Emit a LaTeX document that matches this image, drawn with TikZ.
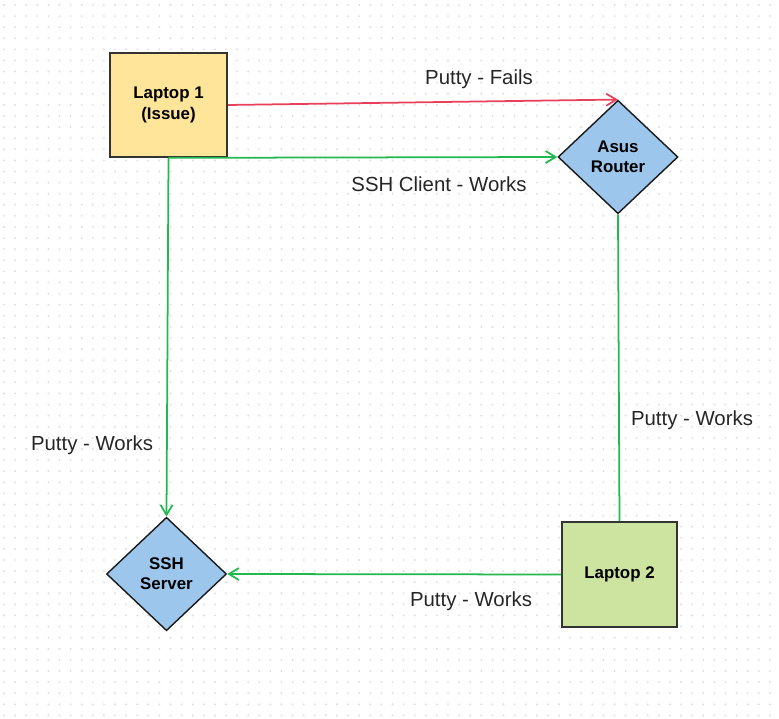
\documentclass[tikz,border=0pt]{standalone}
\usepackage{fontspec}
\setmainfont{Liberation Sans}
\usetikzlibrary{shapes.geometric,arrows.meta}
\definecolor{laptopyellow}{HTML}{FFE599}
\definecolor{laptopgreen}{HTML}{CDE3A0}
\definecolor{routerblue}{HTML}{9DC6EC}
\definecolor{linkred}{HTML}{E8405A}
\definecolor{linkgreen}{HTML}{22B850}
\definecolor{griddot}{HTML}{DDDDDD}
\begin{document}
\begin{tikzpicture}[x=0.02cm,y=-0.02cm,
    laptop/.style={draw=black!80,line width=1pt,font=\fontsize{9.6}{11.5}\selectfont\bfseries,align=center},
    device/.style={diamond,draw=black!90,line width=0.8pt,fill=routerblue,inner sep=0pt,
        minimum width=2.4cm,minimum height=2.27cm,font=\fontsize{9.6}{11.5}\selectfont\bfseries,align=center},
    link/.style={line width=1pt,-{Straight Barb[length=2mm,width=2.4mm]}},
    linklabel/.style={font=\fontsize{11.6}{13}\selectfont,text=black!85}]
    \useasboundingbox (0,0) rectangle (779,719);
    % dotted grid
    \foreach \i in {0,...,70}
        \foreach \j in {0,...,64}
            \fill[griddot] (4+11.1*\i,5+11.1*\j) circle (0.6pt);
    \node[laptop,fill=laptopyellow,minimum width=2.34cm,minimum height=2.08cm] (lap1) at (168.5,105) {Laptop 1\\(Issue)};
    \node[laptop,fill=laptopgreen,minimum width=2.3cm,minimum height=2.1cm] (lap2) at (619.5,574.5) {Laptop 2};
    \node[device] (router) at (618,157) {Asus\\Router};
    \node[device] (server) at (166.5,574) {SSH\\Server};
    \draw[link,linkred] (lap1.east) -- (router.north);
    \draw[link,linkgreen] (lap1.south) -- (router.west);
    \draw[link,linkgreen] (lap1.south) -- (server.north);
    \draw[line width=1pt,linkgreen] (lap2.north) -- (router.south);
    \draw[link,linkgreen] (lap2.west) -- (server.east);
    \node[linklabel] (fails) at (479,79) {Putty - Fails};
    \node[linklabel] (client) at (439,184) {SSH Client - Works};
    \node[linklabel] (left) at (92,445) {Putty - Works};
    \node[linklabel] (right) at (692,420) {Putty - Works};
    \node[linklabel] (bottom) at (471,601) {Putty - Works};
\end{tikzpicture}
\end{document}
